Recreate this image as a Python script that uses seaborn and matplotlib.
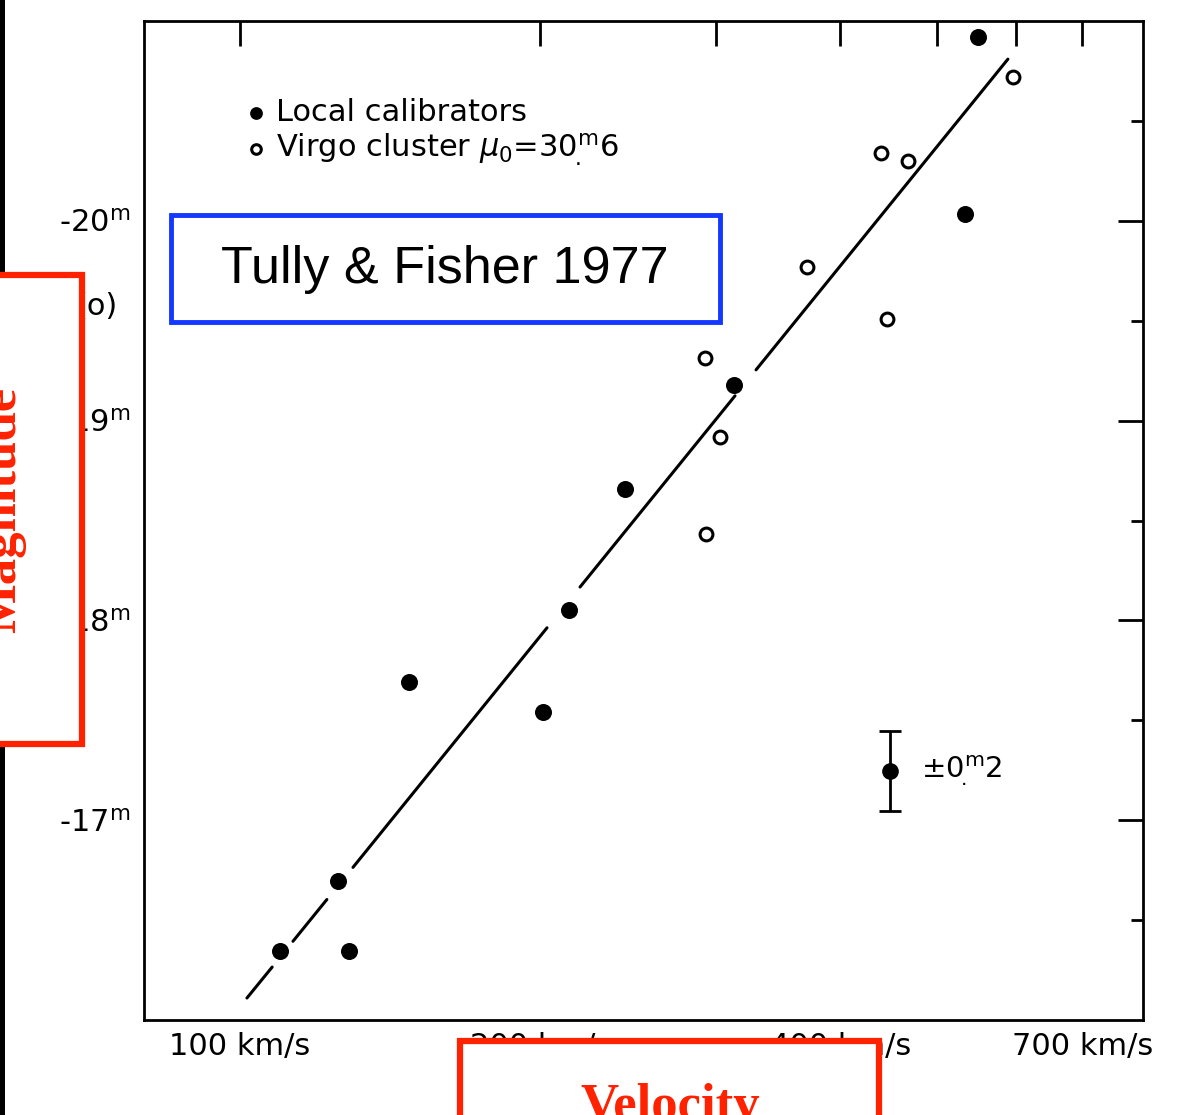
import numpy as np
import pandas as pd
import matplotlib
matplotlib.use("Agg")
import matplotlib.pyplot as plt
import matplotlib.ticker as mticker
from matplotlib.patches import Rectangle
import seaborn as sns

# Local calibrators (filled) : rotation velocity (km/s) and absolute magnitude
local_v = [549.9, 533.6, 313.0, 243.3, 213.8, 147.7, 201.4, 125.4, 109.7, 128.6]
local_m = [-20.92, -20.035, -19.18, -18.66, -18.05, -17.69, -17.54, -16.695, -16.345, -16.345]

# Virgo cluster galaxies (open)
virgo_v = [596.1, 439.6, 467.8, 370.4, 445.6, 292.7, 303.0, 293.4]
virgo_m = [-20.72, -20.34, -20.30, -19.77, -19.51, -19.315, -18.92, -18.43]

line_piece = [1, 1, 2, 2, 3, 3, 4, 4, 5, 5]
line_v = [101.6, 107.7, 113.0, 122.2, 129.8, 203.2, 219.3, 313.7, 329.3, 589.2]
line_m = [-16.11, -16.265, -16.394, -16.603, -16.764, -17.963, -18.167, -19.124, -19.254, -20.809]

# sample error bar
err_v = [448.7]
err_m = [-17.245]
err_size = 0.2

x_ticks = [100, 200, 300, 400, 500, 600, 700]
x_labels = ["100 km/s", "200 km/s", "", "400 km/s", "", "", "700 km/s"]
y_ticks = [-20, -19, -18, -17]
y_labels = [r"-20$^{\rm m}$", r"-19$^{\rm m}$", r"-18$^{\rm m}$", r"-17$^{\rm m}$"]
y_minor = [-20.5, -19.5, -18.5, -17.5, -16.5]

sns.set_style("white")
plt.rcParams['font.family'] = ['DejaVu Sans']
plt.rcParams['mathtext.fontset'] = 'dejavusans'
plt.rcParams['text.color'] = 'black'

W, H = 1188, 1115
fig = plt.figure(figsize=(W / 100, H / 100), dpi=100)
ax = fig.add_axes([144 / W, 1 - 1020 / H, 999 / W, 999 / H])

ax.set_xscale('log')
ax.set_xlim(80.1, 805)
ax.set_ylim(-16.0, -21.0)

line_df = pd.DataFrame({'v': line_v, 'M': line_m, 'piece': line_piece})
sns.lineplot(data=line_df, x='v', y='M', units='piece', estimator=None,
             color='black', linewidth=2.2, ax=ax, legend=False)

sns.scatterplot(x=local_v, y=local_m, color='black', edgecolor='black',
                s=150, linewidth=0, ax=ax, label='Local calibrators', zorder=3)
sns.scatterplot(x=virgo_v, y=virgo_m, color='white', edgecolor='black',
                s=85, linewidth=2.2, ax=ax,
                label=r"Virgo cluster $\mu_0$=30$^{\rm m}_{\!.}$6", zorder=3)

ax.errorbar(err_v, err_m, yerr=err_size, fmt='o', color='black', ms=11,
            elinewidth=2, capsize=8, capthick=2)
ax.annotate(r"$\pm$0$^{\rm m}_{\!.}$2", xy=(err_v[0], err_m[0]), xytext=(22, 0),
            textcoords='offset points', va='center', ha='left', fontsize=21)

ax.xaxis.set_major_locator(mticker.FixedLocator(x_ticks))
ax.xaxis.set_minor_locator(mticker.NullLocator())
ax.set_xticklabels(x_labels)
ax.set_yticks(y_ticks)
ax.set_yticklabels(y_labels)
ax.yaxis.set_minor_locator(mticker.FixedLocator(y_minor))
ax.tick_params(which='both', direction='in', top=True, right=True, width=2,
               colors='black', labelsize=22)
ax.tick_params(which='major', length=18)
ax.tick_params(which='minor', length=9)
ax.tick_params(axis='x', pad=9)
ax.tick_params(axis='y', pad=10)
ax.set_xlabel('')
ax.set_ylabel('')
for sp in ax.spines.values():
    sp.set_linewidth(2)
    sp.set_color('black')

# partly hidden axis label piece
ax.text(-0.026, -19.57, "(o)", transform=ax.get_yaxis_transform(),
        ha='right', va='center', fontsize=22)

leg = ax.legend(loc='upper left', bbox_to_anchor=(0.072, 0.95), frameon=False,
                fontsize=22, markerscale=0.75, handletextpad=0.25,
                labelspacing=0.12, handlelength=0.8)
for t in leg.get_texts():
    t.set_color('black')


def fx(x):
    return x / W


def fy(y):
    return 1 - y / H


# left dark strip of the screenshot
fig.add_artist(Rectangle((0, 0), fx(5), 1, transform=fig.transFigure,
                         facecolor='black', edgecolor='none', zorder=2))

red = '#ff2200'
# Magnitude box
fig.add_artist(Rectangle((fx(-20), fy(744)), fx(102), (744 - 275) / H,
                         transform=fig.transFigure, facecolor='white',
                         edgecolor=red, linewidth=4.5, zorder=5))
fig.text(fx(2), fy(510), "Magnitude", rotation=90, ha='center', va='center',
         color=red, fontsize=38, fontweight='bold', family='Liberation Serif',
         zorder=6)

# Velocity box
fig.add_artist(Rectangle((fx(460), fy(1140)), fx(419), (1140 - 1041) / H,
                         transform=fig.transFigure, facecolor='white',
                         edgecolor=red, linewidth=4.5, zorder=5))
fig.text(fx(670), fy(1083), "Velocity", ha='center', va='top',
         color=red, fontsize=38, fontweight='bold', family='Liberation Serif',
         zorder=6)

# Title box
fig.add_artist(Rectangle((fx(171), fy(322)), fx(549), (322 - 215) / H,
                         transform=fig.transFigure, facecolor='white',
                         edgecolor='#1438ff', linewidth=3.5, zorder=5))
fig.text(fx(445), fy(270), "Tully & Fisher 1977", ha='center', va='center',
         fontsize=37.5, family='Liberation Sans', color='black', zorder=6)

fig.savefig('out.png', dpi=100)
